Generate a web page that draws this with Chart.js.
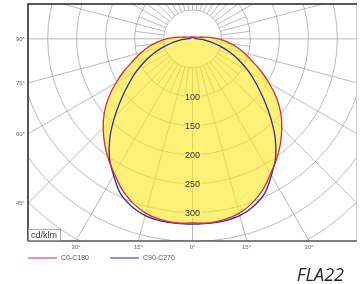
<!DOCTYPE html>
<html>
<head>
<meta charset="utf-8">
<script src="https://cdn.jsdelivr.net/npm/chart.js@4/dist/chart.umd.min.js"></script>
<style>
  html, body { margin: 0; padding: 0; background: #fff; }
  #wrap { width: 363px; height: 284px; }
</style>
</head>
<body>
<div id="wrap"><canvas id="polarChart"></canvas></div>
<script>
// gamma angles (0 = straight down), intensity in cd/klm
const gammaAngles = [0, 5, 10, 15, 20, 25, 30, 35, 40, 45, 50, 55, 60, 65, 70, 75, 80, 85, 90, 95, 100, 110, 120, 135, 150, 165, 180];
const c0c180 = [317, 318, 316, 311, 301, 287, 269, 253, 236, 218, 199, 177, 153, 130, 108, 92, 76, 60, 45, 30, 18, 9, 6, 4.5, 4, 3.5, 3.5];
const c90c270 = [319, 319, 318, 315, 307, 294, 272, 250, 222, 190, 160, 134, 112, 90, 70, 50, 34, 20, 9, 6, 4, 3, 3, 3, 3, 3, 3];
const ringLabels = [100, 150, 200, 250, 300];
const leftAngleTicks = [45, 60, 75, 90];
const bottomAngleTicks = [-30, -15, 0, 15, 30];

const FILL = "rgba(255, 230, 30, 0.6)";
const LABEL_BG = "rgb(255, 240, 120)";

// polar (gamma, I) -> cartesian: right half, then mirrored left half back to 0
function toLoop(values) {
  const pts = [];
  for (let i = 0; i < gammaAngles.length; i++) {
    const g = gammaAngles[i] * Math.PI / 180;
    pts.push({ x: values[i] * Math.sin(g), y: -values[i] * Math.cos(g) });
  }
  for (let i = gammaAngles.length - 2; i >= 0; i--) {
    const g = gammaAngles[i] * Math.PI / 180;
    pts.push({ x: -values[i] * Math.sin(g), y: -values[i] * Math.cos(g) });
  }
  return pts;
}

const polarGrid = {
  id: "polarGrid",
  beforeDatasetsDraw(chart) {
    const { ctx, chartArea: a, scales: { x, y } } = chart;
    const cx = x.getPixelForValue(0), cy = y.getPixelForValue(0);
    const k = (x.getPixelForValue(100) - cx) / 100; // px per cd/klm
    ctx.save();
    ctx.beginPath();
    ctx.rect(a.left, a.top, a.right - a.left, a.bottom - a.top);
    ctx.clip();
    ctx.strokeStyle = "#a8a8a8";
    ctx.lineWidth = 0.8;
    // circles
    for (let v = 50; v <= 700; v += 50) {
      ctx.beginPath();
      ctx.arc(cx, cy, v * k, 0, Math.PI * 2);
      ctx.stroke();
    }
    // radial lines: every 15 deg full length, every 7.5 deg in the inner ring
    for (let d = 0; d < 360; d += 7.5) {
      const major = d % 15 === 0;
      const r0 = 50 * k;
      const r1 = (major ? 800 : 100) * k;
      const t = d * Math.PI / 180;
      ctx.beginPath();
      ctx.moveTo(cx + r0 * Math.sin(t), cy + r0 * Math.cos(t));
      ctx.lineTo(cx + r1 * Math.sin(t), cy + r1 * Math.cos(t));
      ctx.stroke();
    }
    // yellow fill of the C0-C180 curve
    const meta = chart.getDatasetMeta(0);
    ctx.fillStyle = FILL;
    ctx.beginPath();
    try {
      meta.dataset.updateControlPoints(a, "x");
      meta.dataset.path(ctx);
    } catch (e) {
      meta.data.forEach((p, i) => (i ? ctx.lineTo(p.x, p.y) : ctx.moveTo(p.x, p.y)));
    }
    ctx.closePath();
    ctx.fill();
    ctx.restore();
  },
  afterDatasetsDraw(chart) {
    const { ctx, chartArea: a, scales: { x, y } } = chart;
    const cx = x.getPixelForValue(0);
    ctx.save();
    // ring value labels
    ctx.font = "9px 'Liberation Sans', Arial, sans-serif";
    ctx.textAlign = "center";
    ctx.textBaseline = "middle";
    ringLabels.forEach(v => {
      const py = y.getPixelForValue(-v);
      const w = ctx.measureText(String(v)).width;
      ctx.fillStyle = LABEL_BG;
      ctx.fillRect(cx - w / 2 - 1, py - 4, w + 2, 8);
      ctx.fillStyle = "#333";
      ctx.fillText(String(v), cx, py + 0.5);
    });
    // frame
    ctx.strokeStyle = "#cfcfcf";
    ctx.lineWidth = 1;
    ctx.beginPath();
    ctx.moveTo(a.right - 0.5, a.top);
    ctx.lineTo(a.right - 0.5, a.bottom);
    ctx.stroke();
    ctx.strokeStyle = "#222";
    ctx.lineWidth = 1.5;
    ctx.beginPath();
    ctx.moveTo(a.right, a.top);
    ctx.lineTo(a.left, a.top);
    ctx.lineTo(a.left, a.bottom);
    ctx.stroke();
    ctx.strokeStyle = "#555";
    ctx.beginPath();
    ctx.moveTo(a.left, a.bottom);
    ctx.lineTo(a.right, a.bottom);
    ctx.stroke();
    // angle labels
    ctx.fillStyle = "#666";
    ctx.font = "6px 'Liberation Sans', Arial, sans-serif";
    ctx.textAlign = "right";
    leftAngleTicks.forEach(g => {
      const t = g * Math.PI / 180;
      const vy = -Math.abs(x.min) * Math.cos(t) / Math.sin(t);
      ctx.fillText(g + "°", a.left - 3, y.getPixelForValue(vy));
    });
    ctx.textAlign = "center";
    bottomAngleTicks.forEach(g => {
      const t = g * Math.PI / 180;
      const vx = Math.abs(y.min) * Math.tan(t);
      ctx.fillText(Math.abs(g) + "°", x.getPixelForValue(vx), a.bottom + 6);
    });
    // unit box
    ctx.fillStyle = "#fff";
    ctx.fillRect(a.left + 1, a.bottom - 11, 31, 10);
    ctx.strokeStyle = "#999";
    ctx.lineWidth = 0.8;
    ctx.strokeRect(a.left + 0.5, a.bottom - 11.5, 32, 11);
    ctx.fillStyle = "#333";
    ctx.font = "9px 'Liberation Sans', Arial, sans-serif";
    ctx.textAlign = "left";
    ctx.fillText("cd/klm", a.left + 3, a.bottom - 5.5);
    // legend
    ctx.font = "7px 'Liberation Sans', Arial, sans-serif";
    ctx.fillStyle = "#555";
    const legX = [28, 110];
    chart.data.datasets.forEach((ds, i) => {
      const lx = legX[i];
      ctx.strokeStyle = ds.borderColor;
      ctx.lineWidth = 1;
      ctx.beginPath();
      ctx.moveTo(lx, 258);
      ctx.lineTo(lx + 29, 258);
      ctx.stroke();
      ctx.fillText(ds.label, lx + 33, 258.5);
    });
    // title
    ctx.font = "italic 18px 'Open Sans', sans-serif";
    ctx.fillStyle = "#222";
    ctx.textAlign = "right";
    ctx.textBaseline = "alphabetic";
    ctx.fillText("FLA22", 344, 281);
    ctx.restore();
  }
};

new Chart(document.getElementById("polarChart"), {
  type: "scatter",
  data: {
    datasets: [
      {
        label: "C0-C180",
        data: toLoop(c0c180),
        showLine: true,
        borderColor: "#dc2b35",
        borderWidth: 1.3,
        pointRadius: 0,
        tension: 0.35,
        fill: false,
      },
      {
        label: "C90-C270",
        data: toLoop(c90c270),
        showLine: true,
        borderColor: "#2b2f9a",
        borderWidth: 1.3,
        pointRadius: 0,
        tension: 0.35,
        fill: false,
      },
    ],
  },
  options: {
    responsive: true,
    maintainAspectRatio: false,
    animation: false,
    layout: { padding: { left: 28, top: 4, right: 6, bottom: 43 } },
    plugins: {
      legend: { display: false },
      tooltip: { enabled: false },
    },
    scales: {
      x: { type: "linear", min: -284, max: 284, display: false },
      y: { type: "linear", min: -348, max: 60, display: false },
    },
  },
  plugins: [polarGrid],
});
</script>
</body>
</html>
